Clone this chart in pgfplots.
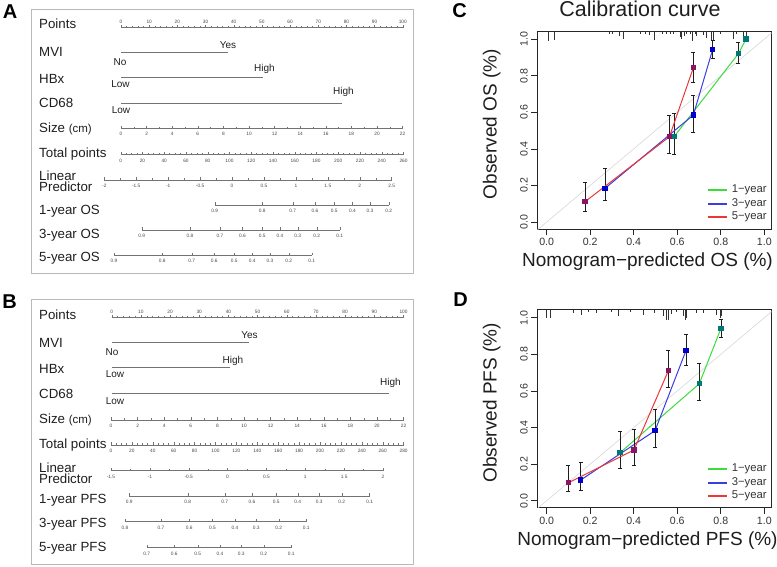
\documentclass[border=0pt]{standalone}
\usepackage{pgfplots}
\pgfplotsset{compat=1.18}
\usepackage{pgfplotstable}
\usepackage{fontspec}
\setmainfont{Liberation Sans}
\definecolor{linegray}{RGB}{115,115,115}
\definecolor{labgray}{RGB}{70,70,70}
\definecolor{boxgray}{RGB}{185,185,185}
\definecolor{cgreen}{RGB}{60,220,60}
\definecolor{cblue}{RGB}{60,60,225}
\definecolor{cred}{RGB}{235,55,55}
\definecolor{mteal}{RGB}{0,120,120}
\definecolor{mblue}{RGB}{0,0,205}
\definecolor{mpurple}{RGB}{140,20,100}
\definecolor{diaggray}{RGB}{215,215,215}
\definecolor{txt}{RGB}{30,30,30}
\definecolor{ebar}{RGB}{30,30,30}
\definecolor{rugc}{RGB}{50,50,50}

\newcommand{\rowfont}{\fontsize{13.3}{14}\selectfont}
\newcommand{\lvlfont}{\fontsize{10}{11}\selectfont}
\newcommand{\legfont}{\fontsize{11.3}{12}\selectfont}

% calibration data: x = predicted, y = observed, ep/em = error bar
\pgfplotstableread{
x y ep em
0.585 0.466 0.128 0.096
0.881 0.920 0.060 0.053
0.916 1.000 0 0
}\COone
\pgfplotstableread{
x y ep em
0.268 0.184 0.109 0.067
0.674 0.585 0.109 0.095
0.763 0.944 0.051 0.050
}\COthree
\pgfplotstableread{
x y ep em
0.176 0.111 0.106 0.051
0.564 0.466 0.119 0.091
0.674 0.843 0.082 0.080
}\COfive
\pgfplotstableread{
x y ep em
0.337 0.262 0.119 0.085
0.701 0.639 0.111 0.093
0.801 0.942 0.051 0.049
}\CPone
\pgfplotstableread{
x y ep em
0.156 0.113 0.096 0.055
0.498 0.383 0.116 0.092
0.640 0.820 0.089 0.079
}\CPthree
\pgfplotstableread{
x y ep em
0.100 0.098 0.097 0.049
0.401 0.277 0.113 0.082
0.559 0.710 0.113 0.091
}\CPfive
\pgfplotstableread{
x y l
0.008 1.044 0.055
0.034 1.044 0.050
0.286 1.044 0.015
0.303 1.044 0.015
0.334 1.044 0.027
0.352 1.044 0.046
0.429 1.044 0.015
0.452 1.044 0.018
0.472 1.044 0.022
0.495 1.044 0.050
0.533 1.044 0.015
0.551 1.044 0.018
0.567 1.044 0.015
0.582 1.044 0.015
0.613 1.044 0.033
0.620 1.044 0.046
0.631 1.044 0.027
0.643 1.044 0.015
0.658 1.044 0.018
0.669 1.044 0.055
0.681 1.044 0.015
0.689 1.044 0.027
0.720 1.044 0.022
0.735 1.044 0.036
0.758 1.044 0.055
0.766 1.044 0.050
0.796 1.044 0.015
0.858 1.044 0.046
0.873 1.044 0.015
0.904 1.044 0.036
0.919 1.044 0.027
}\RugOS
\pgfplotstableread{
x y l
0.000 1.044 0.046
0.015 1.044 0.046
0.123 1.044 0.018
0.161 1.044 0.027
0.191 1.044 0.015
0.230 1.044 0.018
0.299 1.044 0.015
0.329 1.044 0.036
0.383 1.044 0.015
0.444 1.044 0.027
0.493 1.044 0.018
0.536 1.044 0.036
0.551 1.044 0.055
0.559 1.044 0.055
0.574 1.044 0.022
0.597 1.044 0.015
0.628 1.044 0.036
0.636 1.044 0.055
0.643 1.044 0.046
0.689 1.044 0.018
0.720 1.044 0.018
0.781 1.044 0.027
0.796 1.044 0.046
0.804 1.044 0.036
}\RugPFS

\pgfplotsset{
  /pgf/number format/assume math mode=true,
  nomo/.style={scale only axis, height=1pt, axis y line=none, ymin=0, ymax=1,
    enlargelimits=false, clip=false,
    axis line style={draw=linegray, line width=0.5pt, -},
    tick style={draw=linegray, line width=0.4pt},
    major tick length=2.6pt, minor tick length=1.6pt,
    tick label style={font=\fontsize{4.8}{5}\selectfont, text=labgray, inner sep=0.6pt}},
  nomobot/.style={nomo, axis x line*=bottom, xtick align=inside, anchor=south west,
    xticklabel style={yshift=-3.5pt}},
  nomotop/.style={nomo, axis x line*=top, xtick align=outside, anchor=north west,
    xticklabel style={yshift=0.5pt}},
  panel/.style={scale only axis, anchor=south west, ticks=none, clip=false, y dir=reverse,
    axis line style={draw=boxgray, line width=0.9pt}, enlargelimits=false},
  flev/.style={linegray, line width=0.5pt, mark=none},
  calib/.style={scale only axis, width=234.4pt, height=198pt, anchor=south west,
    xmin=-0.043, xmax=1.034, ymin=-0.038, ymax=1.044,
    axis line style={draw=black!85, line width=0.7pt},
    tick style={draw=black!85, line width=0.6pt},
    tick align=outside, major tick length=6pt,
    xtick={0,0.2,0.4,0.6,0.8,1}, xticklabels={0.0,0.2,0.4,0.6,0.8,1.0},
    ytick={0,0.2,0.4,0.6,0.8,1}, yticklabels={0.0,0.2,0.4,0.6,0.8,1.0},
    xtick pos=bottom, ytick pos=left,
    tick label style={font=\fontsize{10.6}{11}\selectfont, text=black!80},
    yticklabel style={rotate=90, anchor=south},
    label style={font=\fontsize{19}{20}\selectfont, text=txt},
    xlabel style={at={(axis description cs:0.47,-0.167)}, anchor=center},
    ylabel style={at={(axis description cs:-0.1945,0.53)}, anchor=center}},
  legl/.style={color=#1, draw=#1, line width=2pt, line cap=butt, mark=none, forget plot},
  ser/.style n args={2}{draw=#1, line width=1pt, mark=square*, mark size=2.1pt,
    mark options={draw=#2, fill=#2, solid}, forget plot,
    error bars/y dir=both, error bars/y explicit,
    error bars/error mark=|,
    error bars/error bar style={draw=ebar, line width=0.7pt},
    error bars/error mark options={draw=ebar, mark size=2pt, line width=0.7pt}},
  rug/.style={draw=none, mark=none, forget plot,
    error bars/y dir=minus, error bars/y explicit, error bars/error mark=none,
    error bars/error bar style={draw=rugc, line width=0.5pt}}
}

\begin{document}
\begin{tikzpicture}[x=1pt,y=1pt]
\useasboundingbox (0,0) rectangle (777,566);

% ================= Panel A =================
\begin{axis}[panel, at={(31pt,293pt)}, width=382pt, height=264pt,
  xmin=-31.94, xmax=103.62, ymin=9, ymax=273]
\addplot[flev] coordinates {(0,52.7) (37.8,52.7)};
\addplot[flev] coordinates {(0,77.7) (50.5,77.7)};
\addplot[flev] coordinates {(0,103.7) (78.3,103.7)};
\end{axis}
\begin{axis}[nomotop, at={(121pt,538.3pt)}, width=281.8pt, xmin=0, xmax=100,
  xtick={0,10,...,100}, minor x tick num=4]
\end{axis}
\begin{axis}[nomobot, at={(121pt,437.7pt)}, width=281.6pt, xmin=0, xmax=22,
  xtick={0,2,...,22}, minor x tick num=1]
\end{axis}
\begin{axis}[nomobot, at={(120.7pt,411.3pt)}, width=282.8pt, xmin=0, xmax=260,
  xtick={0,20,...,260}, minor x tick num=3]
\end{axis}
\begin{axis}[nomobot, at={(104.3pt,386pt)}, width=287.4pt, xmin=-2, xmax=2.5,
  xtick={-2,-1.5,-1,-0.5,0,0.5,1,1.5,2,2.5}, xticklabels={-2,-1.5,-1,-0.5,0,0.5,1,1.5,2,2.5}, minor x tick num=1]
\end{axis}
\begin{axis}[nomobot, at={(214.65pt,361pt)}, width=174.2pt, xmin=214.65, xmax=388.85,
  xtick={214.7,262.3,292.7,315,334.3,352.5,370,388.8},
  xticklabels={0.9,0.8,0.7,0.6,0.5,0.4,0.3,0.2}]
\end{axis}
\begin{axis}[nomobot, at={(141.65pt,336pt)}, width=198.1pt, xmin=141.65, xmax=339.75,
  xtick={141.7,190,220,242.5,262.3,280,297.7,316.7,339.7},
  xticklabels={0.9,0.8,0.7,0.6,0.5,0.4,0.3,0.2,0.1}]
\end{axis}
\begin{axis}[nomobot, at={(113.95pt,310.7pt)}, width=197.8pt, xmin=113.95, xmax=311.75,
  xtick={114,162.3,191.7,214.3,234.3,252.3,270,288.8,311.7},
  xticklabels={0.9,0.8,0.7,0.6,0.5,0.4,0.3,0.2,0.1}]
\end{axis}

% ================= Panel B =================
\begin{axis}[panel, at={(31pt,2pt)}, width=382pt, height=265pt,
  xmin=-27.66, xmax=103.26, ymin=299, ymax=564]
\addplot[flev] coordinates {(0,342.3) (47,342.3)};
\addplot[flev] coordinates {(0,367.7) (40.5,367.7)};
\addplot[flev] coordinates {(0,393.7) (95.2,393.7)};
\end{axis}
\begin{axis}[nomotop, at={(111.7pt,248.7pt)}, width=291.8pt, xmin=0, xmax=100,
  xtick={0,10,...,100}, minor x tick num=4]
\end{axis}
\begin{axis}[nomobot, at={(111pt,146pt)}, width=292.6pt, xmin=0, xmax=22,
  xtick={0,2,...,22}, minor x tick num=1]
\end{axis}
\begin{axis}[nomobot, at={(111pt,121pt)}, width=292.6pt, xmin=0, xmax=280,
  xtick={0,20,...,280}, minor x tick num=3]
\end{axis}
\begin{axis}[nomobot, at={(111pt,95.3pt)}, width=272pt, xmin=-1.5, xmax=2,
  xtick={-1.5,-1,-0.5,0,0.5,1,1.5,2}, xticklabels={-1.5,-1,-0.5,0,0.5,1,1.5,2}, minor x tick num=1]
\end{axis}
\begin{axis}[nomobot, at={(129.25pt,70pt)}, width=240.4pt, xmin=129.25, xmax=369.65,
  xtick={129.3,187.7,224.7,252,276.3,297.7,319.3,341.7,369.6},
  xticklabels={0.9,0.8,0.7,0.6,0.5,0.4,0.3,0.2,0.1}]
\end{axis}
\begin{axis}[nomobot, at={(124.95pt,44.3pt)}, width=181.4pt, xmin=124.95, xmax=306.35,
  xtick={125,161,189.3,212.5,235,256.3,278.7,306.3},
  xticklabels={0.8,0.7,0.6,0.5,0.4,0.3,0.2,0.1}]
\end{axis}
\begin{axis}[nomobot, at={(146.65pt,18.3pt)}, width=144.7pt, xmin=146.65, xmax=291.35,
  xtick={146.7,174.3,197.7,220,241.3,263.7,291.3},
  xticklabels={0.7,0.6,0.5,0.4,0.3,0.2,0.1}]
\end{axis}

% ================= Panel C =================
\begin{axis}[calib, at={(537.3pt,337pt)},
  title={Calibration curve},
  title style={font=\fontsize{21.5}{22}\selectfont, text=txt, at={(axis description cs:0.438,1.083)}, anchor=center},
  xlabel={Nomogram−predicted OS (\%)}, ylabel={Observed OS (\%)}]
\addplot[legl=cgreen] coordinates {(0.7418,0.1751) (0.8291,0.1751)};
\addplot[legl=cblue] coordinates {(0.7418,0.0986) (0.8291,0.0986)};
\addplot[legl=cred] coordinates {(0.7418,0.0276) (0.8291,0.0276)};
\addplot[draw=diaggray, line width=0.6pt, forget plot] coordinates {(-0.06,-0.06) (1.06,1.06)};
\addplot[rug] table[x=x, y=y, y error=l] {\RugOS};
\addplot[ser={cgreen}{mteal}] table[x=x, y=y, y error plus=ep, y error minus=em] {\COone};
\addplot[ser={cblue}{mblue}] table[x=x, y=y, y error plus=ep, y error minus=em] {\COthree};
\addplot[ser={cred}{mpurple}] table[x=x, y=y, y error plus=ep, y error minus=em] {\COfive};
\node[anchor=west, font=\legfont, text=black!80, inner sep=0pt] at (axis cs:0.850,0.1751) {1−year};
\node[anchor=west, font=\legfont, text=black!80, inner sep=0pt] at (axis cs:0.850,0.0986) {3−year};
\node[anchor=west, font=\legfont, text=black!80, inner sep=0pt] at (axis cs:0.850,0.0276) {5−year};
\end{axis}

% ================= Panel D =================
\begin{axis}[calib, at={(537.3pt,58.3pt)},
  xlabel={Nomogram−predicted PFS (\%)}, ylabel={Observed PFS (\%)}]
\addplot[legl=cgreen] coordinates {(0.7418,0.1735) (0.8291,0.1735)};
\addplot[legl=cblue] coordinates {(0.7418,0.0970) (0.8291,0.0970)};
\addplot[legl=cred] coordinates {(0.7418,0.0260) (0.8291,0.0260)};
\addplot[draw=diaggray, line width=0.6pt, forget plot] coordinates {(-0.06,-0.06) (1.06,1.06)};
\addplot[rug] table[x=x, y=y, y error=l] {\RugPFS};
\addplot[ser={cgreen}{mteal}] table[x=x, y=y, y error plus=ep, y error minus=em] {\CPone};
\addplot[ser={cblue}{mblue}] table[x=x, y=y, y error plus=ep, y error minus=em] {\CPthree};
\addplot[ser={cred}{mpurple}] table[x=x, y=y, y error plus=ep, y error minus=em] {\CPfive};
\node[anchor=west, font=\legfont, text=black!80, inner sep=0pt] at (axis cs:0.850,0.1735) {1−year};
\node[anchor=west, font=\legfont, text=black!80, inner sep=0pt] at (axis cs:0.850,0.0970) {3−year};
\node[anchor=west, font=\legfont, text=black!80, inner sep=0pt] at (axis cs:0.850,0.0260) {5−year};
\end{axis}

% ================= Text: panel letters =================
\begin{scope}[every node/.style={font=\fontsize{20}{20}\bfseries\selectfont, text=black, inner sep=0pt}]
\node at (10,554) {A};
\node at (9.5,264.5) {B};
\node at (459.5,555) {C};
\node at (460.5,266.5) {D};
\end{scope}

% ================= Text: nomogram row labels =================
\begin{scope}[every node/.style={font=\rowfont, text=txt, inner sep=0pt, anchor=west}]
\node at (39,542) {Points};
\node at (39,514) {MVI};
\node at (39,487) {HBx};
\node at (39,463) {CD68};
\node at (39,437) {Size {\fontsize{11.5}{12}\selectfont(cm)}};
\node at (39,412) {Total points};
\node[anchor=base west, align=left, font=\fontsize{13.3}{10.8}\selectfont] at (39,374.5) {Linear\\Predictor};
\node at (39,355) {1-year OS};
\node at (39,331) {3-year OS};
\node at (39,308) {5-year OS};
\node at (39,251.5) {Points};
\node at (39,223) {MVI};
\node at (39,197.5) {HBx};
\node at (39,172) {CD68};
\node at (39,146.5) {Size {\fontsize{11.5}{12}\selectfont(cm)}};
\node at (39,120.5) {Total points};
\node[anchor=base west, align=left, font=\fontsize{13.3}{11.3}\selectfont] at (39,82.5) {Linear\\Predictor};
\node at (39,65.5) {1-year PFS};
\node at (39,41.5) {3-year PFS};
\node at (39,17.5) {5-year PFS};
\end{scope}

% ================= Text: factor level labels =================
\begin{scope}[every node/.style={font=\lvlfont, text=txt, inner sep=0pt}]
\node at (120,504) {No};
\node at (228,521) {Yes};
\node at (120.5,481.5) {Low};
\node at (264.5,497.5) {High};
\node at (121,456) {Low};
\node at (343.5,474) {High};
\node at (112,214) {No};
\node at (249.5,230.5) {Yes};
\node at (115,192) {Low};
\node at (233,205) {High};
\node at (115,165) {Low};
\node at (390.5,183.5) {High};
\end{scope}
\end{tikzpicture}
\end{document}
